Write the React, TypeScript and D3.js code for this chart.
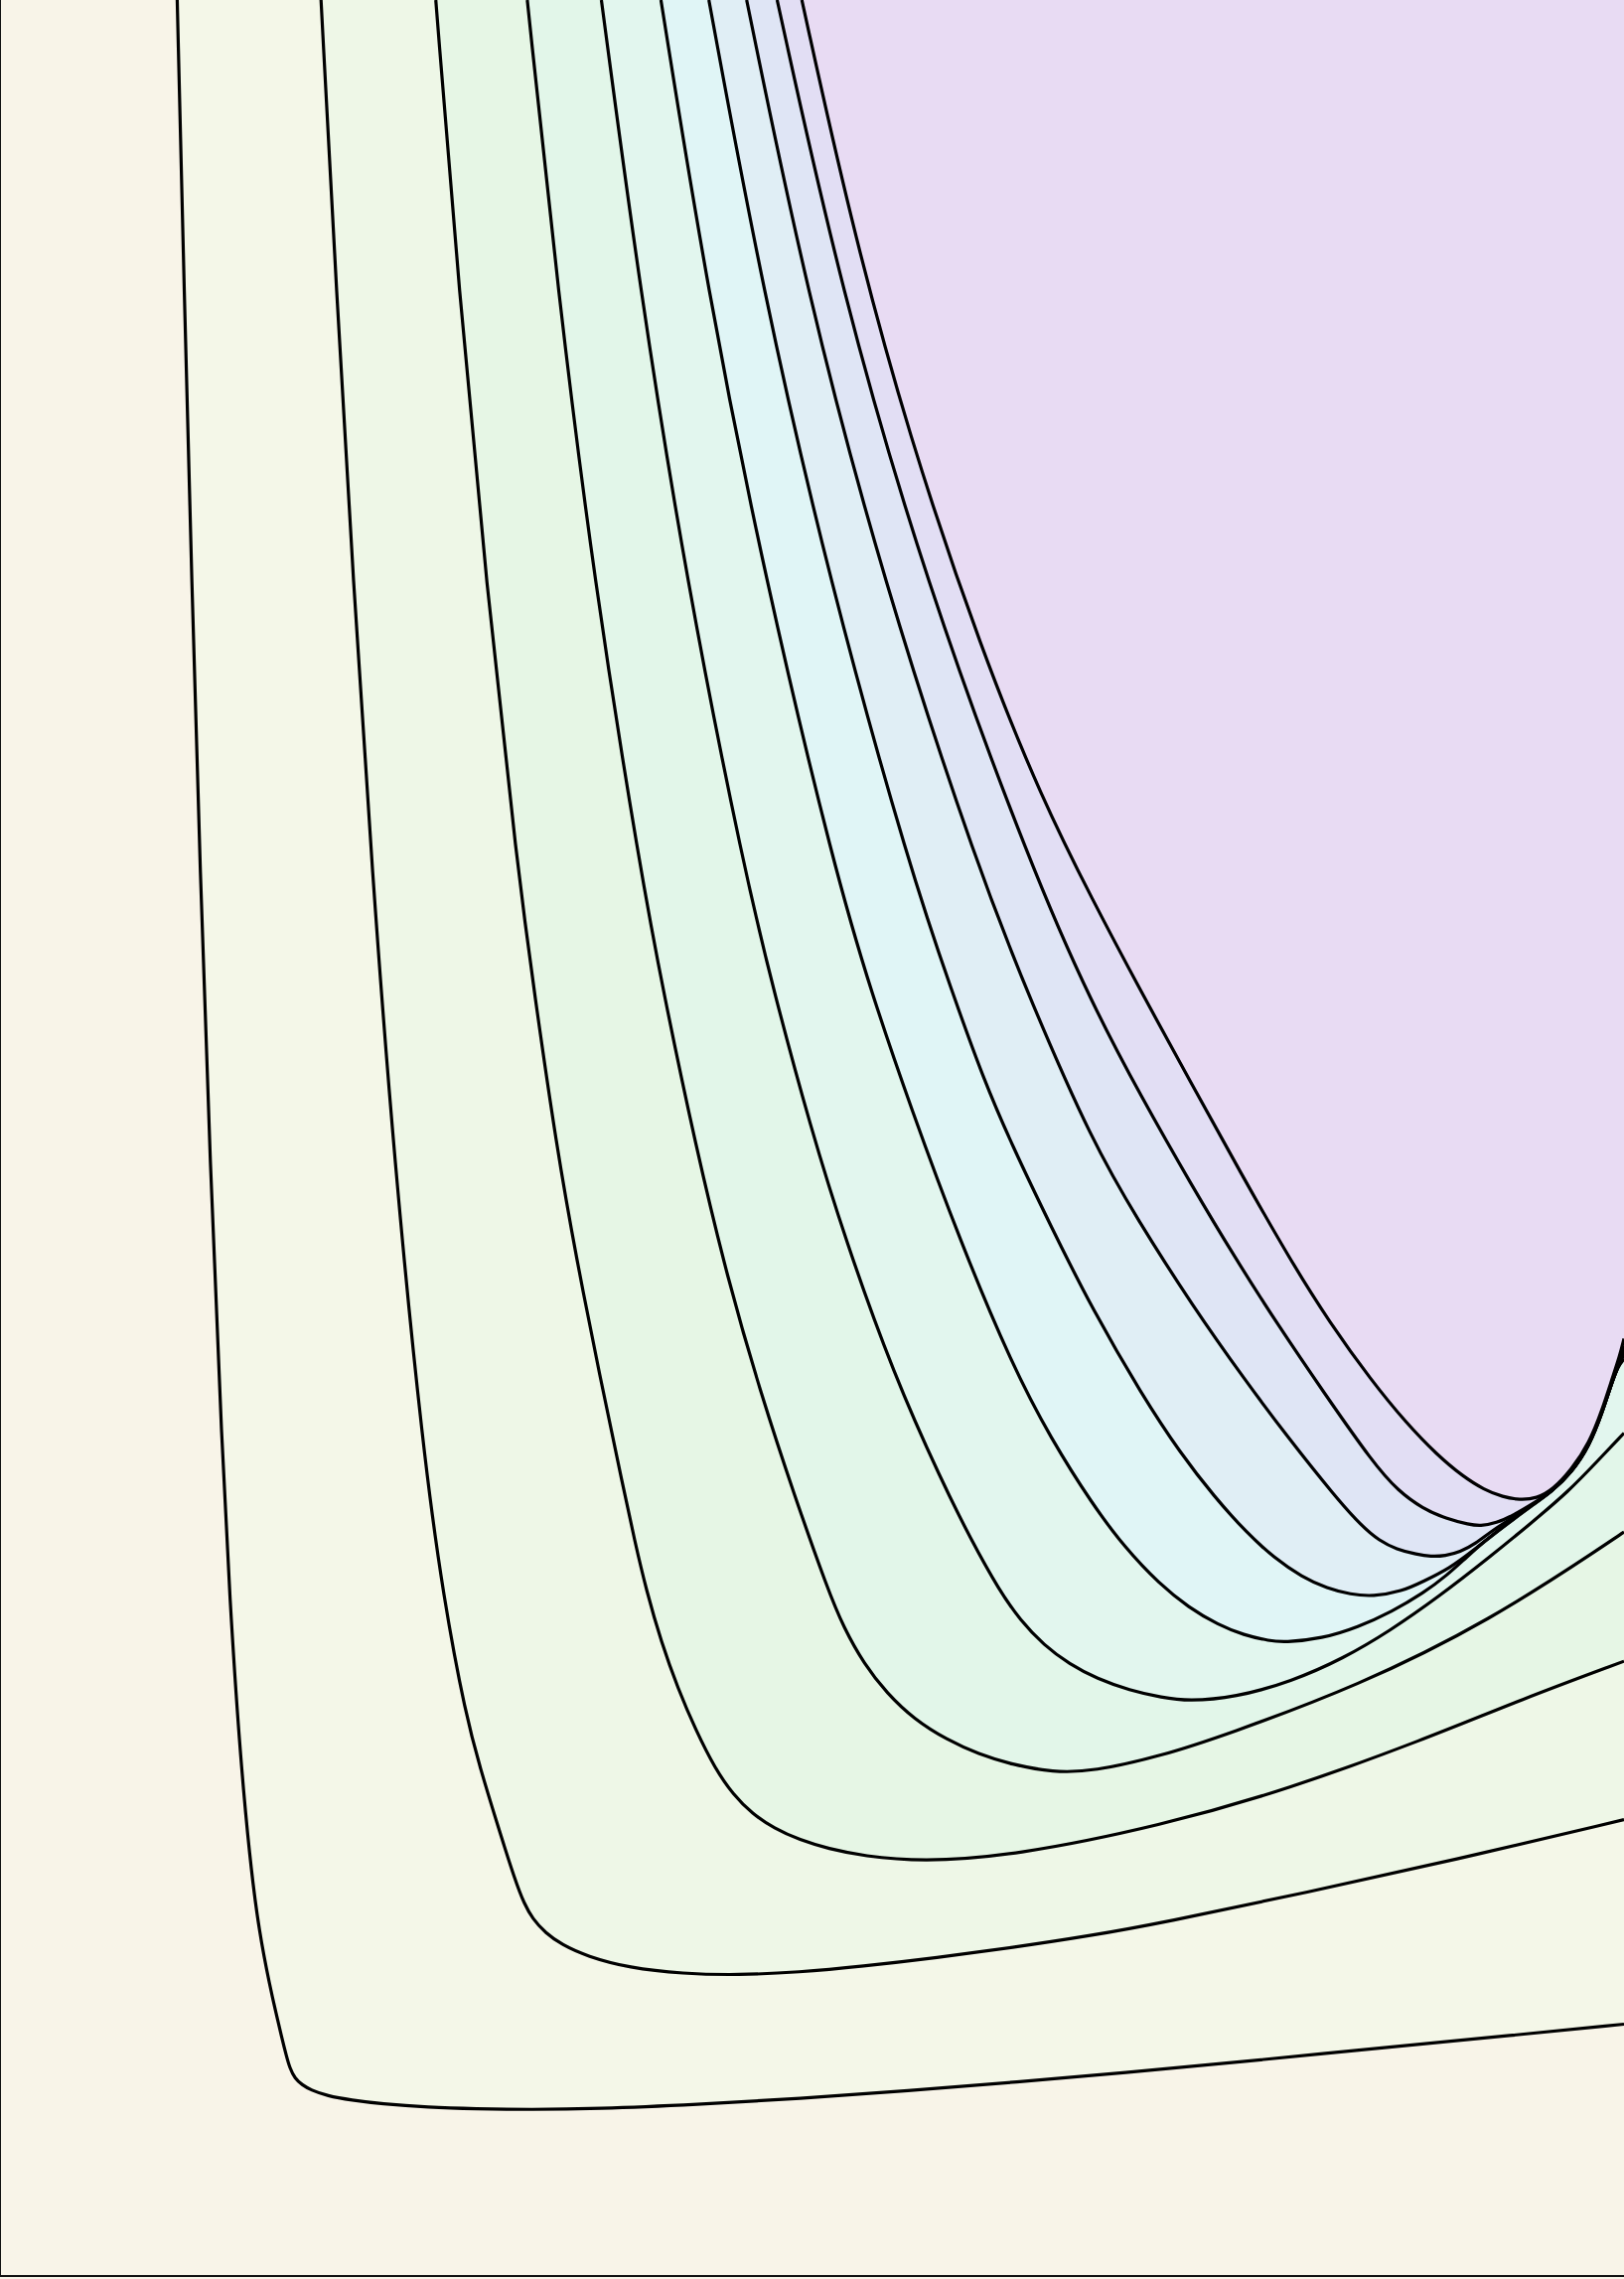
import React from "react";
import * as d3 from "d3";

type Pt = [number, number];

const WIDTH = 1635;
const HEIGHT = 2294;
const PLOT_BOTTOM = 2291;
const X_DOMAIN: [number, number] = [0, 11.18];
const Y_DOMAIN: [number, number] = [0, 15.66];

// fill colour of each band, from outside the first contour to inside the last
const bandColors = [
  "#f8f4e8",
  "#f4f7e8",
  "#eef7e7",
  "#e6f6e5",
  "#e2f6e9",
  "#e2f6ee",
  "#e0f5f6",
  "#e0eef5",
  "#dfe5f5",
  "#e2def4",
  "#e8dbf3",
];

const contour1: Pt[] = [
  [1.22, 15.66], [1.268, 13.66], [1.32, 11.66], [1.378, 9.66], [1.446, 7.66], [1.53, 5.66],
  [1.582, 4.66], [1.647, 3.66], [1.72, 2.86], [1.785, 2.36], [1.859, 1.99], [1.9, 1.81],
  [1.94, 1.64], [1.97, 1.52], [1.995, 1.43], [2.03, 1.36], [2.08, 1.315], [2.14, 1.28],
  [2.25, 1.24], [2.42, 1.21], [2.62, 1.185], [2.95, 1.16], [3.27, 1.15], [3.65, 1.145],
  [4.1, 1.15], [4.8, 1.18], [5.5, 1.22], [6.25, 1.275], [7.0, 1.335], [7.75, 1.4], [8.5, 1.47],
  [9.57, 1.575], [10.4, 1.655], [11.18, 1.733],
];

const contour2: Pt[] = [
  [2.21, 15.66], [2.316, 13.66], [2.432, 11.66], [2.562, 9.66], [2.714, 7.66], [2.914, 5.66],
  [3.054, 4.66], [3.206, 3.86], [3.31, 3.48], [3.42, 3.12], [3.55, 2.71], [3.61, 2.56],
  [3.665, 2.46], [3.755, 2.36], [3.867, 2.28], [4.04, 2.2], [4.33, 2.12], [4.7, 2.08], [5.08, 2.07],
  [5.5, 2.09], [5.93, 2.13], [6.45, 2.19], [6.97, 2.26], [7.5, 2.34], [8.0, 2.43], [9.0, 2.64],
  [10.0, 2.86], [11.18, 3.14],
];

const contour3: Pt[] = [
  [3.0, 15.66], [3.16, 13.66], [3.346, 11.66], [3.566, 9.66], [3.68, 8.82], [3.83, 7.78],
  [3.97, 6.99], [4.128, 6.2], [4.292, 5.42], [4.369, 5.06], [4.449, 4.72], [4.553, 4.36],
  [4.668, 4.04], [4.788, 3.76], [4.923, 3.49], [5.049, 3.31], [5.179, 3.18], [5.329, 3.08],
  [5.505, 3.0], [5.703, 2.94], [5.943, 2.89], [6.34, 2.85], [6.97, 2.89], [8.0, 3.1], [8.87, 3.35],
  [9.8, 3.69], [10.48, 3.97], [11.18, 4.23],
];

const contour4: Pt[] = [
  [3.63, 15.66], [3.84, 13.66], [4.09, 11.66], [4.41, 9.66], [4.57, 8.82], [4.788, 7.78],
  [5.009, 6.86], [5.238, 6.07], [5.469, 5.37], [5.7, 4.72], [5.809, 4.46], [5.949, 4.21],
  [6.105, 4.01], [6.294, 3.83], [6.518, 3.69], [6.738, 3.59], [6.962, 3.52], [7.25, 3.465],
  [7.52, 3.47], [8.0, 3.58], [8.43, 3.72], [9.35, 4.06], [10.26, 4.51], [11.08, 5.05],
  [11.18, 5.12],
];

const contour5: Pt[] = [
  [4.14, 15.66], [4.406, 13.66], [4.726, 11.66], [5.126, 9.66], [5.332, 8.82], [5.578, 7.91],
  [5.823, 7.12], [6.154, 6.2], [6.483, 5.47], [6.688, 5.06], [6.878, 4.72], [7.025, 4.51],
  [7.187, 4.34], [7.362, 4.21], [7.552, 4.11], [7.776, 4.03], [8.0, 3.98], [8.18, 3.955],
  [8.5, 3.98], [8.89, 4.09], [9.25, 4.25], [9.57, 4.44], [9.9, 4.67], [10.26, 4.95], [10.54, 5.18],
  [10.8, 5.4], [11.0, 5.61], [11.18, 5.8],
];

// the valley floor where contours 6-9 run together beside contour 10
const valleyTail: Pt[] = [
  [10.68, 5.395], [10.82, 5.53], [10.94, 5.71], [11.03, 5.94], [11.1, 6.16], [11.14, 6.26],
];

const contour6Head: Pt[] = [
  [4.55, 15.66], [4.87, 13.66], [5.27, 11.66], [5.75, 9.66], [6.002, 8.82], [6.27, 8.04],
  [6.61, 7.12], [6.971, 6.26], [7.236, 5.76], [7.52, 5.31], [7.745, 5.01], [7.983, 4.76],
  [8.183, 4.6], [8.387, 4.48], [8.562, 4.41], [8.742, 4.37], [8.84, 4.36], [9.1, 4.385],
  [9.35, 4.465], [9.58, 4.57], [9.8, 4.7], [9.96, 4.82], [10.1, 4.95], [10.22, 5.055],
  [10.35, 5.155], [10.55, 5.304],
];
const contour6End: Pt = [11.18, 6.31];

const contour7Head: Pt[] = [
  [4.88, 15.66], [5.25, 13.66], [5.71, 11.66], [6.27, 9.66], [6.56, 8.82], [6.769, 8.24],
  [6.967, 7.78], [7.241, 7.21], [7.521, 6.65], [7.863, 6.06], [8.127, 5.66], [8.361, 5.36],
  [8.586, 5.11], [8.773, 4.94], [8.962, 4.81], [9.138, 4.73], [9.298, 4.69], [9.45, 4.675],
  [9.65, 4.71], [9.8, 4.78], [9.98, 4.87], [10.14, 4.99], [10.35, 5.16], [10.55, 5.306],
];
const contour7End: Pt = [11.18, 6.34];

const contour8Head: Pt[] = [
  [5.14, 15.66], [5.55, 13.66], [6.08, 11.66], [6.74, 9.66], [7.11, 8.74], [7.517, 7.81],
  [7.836, 7.26], [8.207, 6.68], [8.574, 6.16], [8.874, 5.76], [9.194, 5.36], [9.374, 5.16],
  [9.494, 5.06], [9.614, 5.0], [9.754, 4.965], [9.85, 4.95], [9.95, 4.955], [10.05, 4.98],
  [10.16, 5.04], [10.26, 5.12], [10.4, 5.21], [10.55, 5.308],
];
const contour8End: Pt = [11.18, 6.37];

const contour9Head: Pt[] = [
  [5.35, 15.66], [5.79, 13.66], [6.37, 11.66], [7.11, 9.66], [7.524, 8.74], [7.853, 8.12],
  [8.206, 7.5], [8.506, 7.0], [8.8, 6.54], [9.113, 6.08], [9.456, 5.59], [9.627, 5.4],
  [9.795, 5.28], [9.956, 5.21], [10.116, 5.17], [10.19, 5.16], [10.3, 5.18], [10.42, 5.235],
  [10.55, 5.313],
];
const contour9End: Pt = [11.18, 6.4];

const contour10: Pt[] = [
  [5.52, 15.66], [5.85, 14.16], [6.255, 12.66], [6.765, 11.16], [7.175, 10.16], [7.52, 9.47],
  [7.854, 8.84], [8.2, 8.21], [8.541, 7.59], [8.889, 6.98], [9.154, 6.56], [9.442, 6.16],
  [9.68, 5.87], [9.893, 5.65], [10.073, 5.5], [10.217, 5.41], [10.347, 5.36], [10.46, 5.34],
  [10.58, 5.35], [10.69, 5.41], [10.82, 5.55], [10.94, 5.73], [11.03, 5.96], [11.1, 6.18],
  [11.15, 6.33], [11.18, 6.45],
];

export default function App() {
  const x = d3.scaleLinear().domain(X_DOMAIN).range([0, WIDTH]);
  const y = d3.scaleLinear().domain(Y_DOMAIN).range([PLOT_BOTTOM, 0]);

  const line = d3
    .line<Pt>()
    .x((d) => x(d[0]))
    .y((d) => y(d[1]))
    .curve(d3.curveBasis);

  const contours: Pt[][] = [
    contour1,
    contour2,
    contour3,
    contour4,
    contour5,
    [...contour6Head, ...valleyTail, contour6End],
    [...contour7Head, ...valleyTail, contour7End],
    [...contour8Head, ...valleyTail, contour8End],
    [...contour9Head, ...valleyTail, contour9End],
    contour10,
  ];

  const cornerX = x(X_DOMAIN[1]) + 30;
  const cornerY = y(Y_DOMAIN[1]) - 30;

  return (
    <svg
      width={WIDTH}
      height={HEIGHT}
      viewBox={`0 0 ${WIDTH} ${HEIGHT}`}
      style={{ position: "absolute", left: 0, top: 0, display: "block" }}
    >
      <defs>
        <clipPath id="plot-area">
          <rect x={0} y={0} width={WIDTH} height={PLOT_BOTTOM} />
        </clipPath>
      </defs>
      <rect x={0} y={0} width={WIDTH} height={HEIGHT} fill={bandColors[0]} />
      <g clipPath="url(#plot-area)">
        {contours.map((c, i) => (
          <path
            key={`fill-${i}`}
            d={`${line(c)}L${cornerX},${y(c[c.length - 1][1])}L${cornerX},${cornerY}L${x(c[0][0])},${cornerY}Z`}
            fill={bandColors[i + 1]}
            stroke="none"
          />
        ))}
        {contours.map((c, i) => (
          <path
            key={`line-${i}`}
            d={line(c) ?? ""}
            fill="none"
            stroke="#000"
            strokeWidth={3.2}
            strokeLinejoin="round"
          />
        ))}
      </g>
      <line x1={0} y1={0} x2={0} y2={PLOT_BOTTOM} stroke="#111" strokeWidth={2} />
      <line x1={0} y1={PLOT_BOTTOM} x2={WIDTH} y2={PLOT_BOTTOM} stroke="#111" strokeWidth={2} />
    </svg>
  );
}
